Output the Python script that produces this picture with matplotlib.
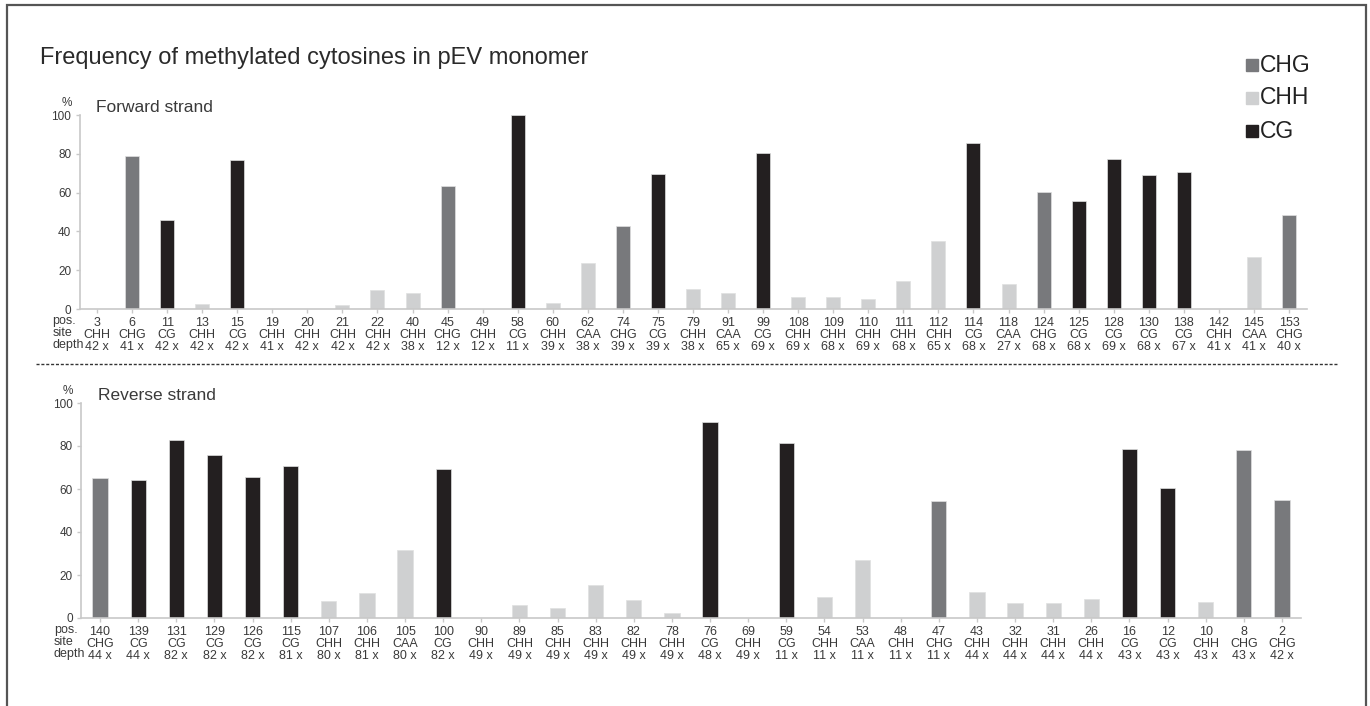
import matplotlib
matplotlib.use("Agg")
import matplotlib.pyplot as plt
from matplotlib.patches import Rectangle
from matplotlib.lines import Line2D

plt.rcParams['font.family'] = ['Liberation Sans', 'DejaVu Sans']

# forward strand
fwd_pos = [3, 6, 11, 13, 15, 19, 20, 21, 22, 40, 45, 49, 58, 60, 62, 74, 75, 79, 91, 99,
           108, 109, 110, 111, 112, 114, 118, 124, 125, 128, 130, 138, 142, 145, 153]
fwd_site = ['CHH', 'CHG', 'CG', 'CHH', 'CG', 'CHH', 'CHH', 'CHH', 'CHH', 'CHH', 'CHG', 'CHH',
            'CG', 'CHH', 'CAA', 'CHG', 'CG', 'CHH', 'CAA', 'CG', 'CHH', 'CHH', 'CHH', 'CHH',
            'CHH', 'CG', 'CAA', 'CHG', 'CG', 'CG', 'CG', 'CG', 'CHH', 'CAA', 'CHG']
fwd_depth = [42, 41, 42, 42, 42, 41, 42, 42, 42, 38, 12, 12, 11, 39, 38, 39, 39, 38, 65, 69,
             69, 68, 69, 68, 65, 68, 27, 68, 68, 69, 68, 67, 41, 41, 40]
fwd_pct = [0, 79, 46, 2.5, 77, 0, 0, 2.3, 9.8, 8, 63.6, 0, 100, 3, 23.5, 43, 69.5, 10.5, 8.3, 80.5,
           6.4, 6.4, 5, 14.5, 35, 85.5, 13, 60.5, 55.5, 77.5, 69, 70.5, 0, 27, 48.5]

# reverse strand
rev_pos = [140, 139, 131, 129, 126, 115, 107, 106, 105, 100, 90, 89, 85, 83, 82, 78, 76, 69,
           59, 54, 53, 48, 47, 43, 32, 31, 26, 16, 12, 10, 8, 2]
rev_site = ['CHG', 'CG', 'CG', 'CG', 'CG', 'CG', 'CHH', 'CHH', 'CAA', 'CG', 'CHH', 'CHH', 'CHH',
            'CHH', 'CHH', 'CHH', 'CG', 'CHH', 'CG', 'CHH', 'CAA', 'CHH', 'CHG', 'CHH', 'CHH',
            'CHH', 'CHH', 'CG', 'CG', 'CHH', 'CHG', 'CHG']
rev_depth = [44, 44, 82, 82, 82, 81, 80, 81, 80, 82, 49, 49, 49, 49, 49, 49, 48, 49, 11, 11,
             11, 11, 11, 44, 44, 44, 44, 43, 43, 43, 43, 42]
rev_pct = [65, 64, 83, 76, 65.5, 70.5, 8, 11.5, 31.5, 69.5, 0, 6, 4.5, 15.5, 8.5, 2.5, 91, 0,
           81.5, 10, 27, 0, 54.5, 12, 7, 7, 9, 78.5, 60.5, 7.5, 78, 55]

colors = {'CHG': '#78797c', 'CHH': '#cfd0d1', 'CAA': '#cfd0d1', 'CG': '#231f20'}
legend_items = ['CHG', 'CHH', 'CG']
axis_col = '#c8c8c8'
txt_col = '#3a3a3a'

W, H = 1370, 706
fig = plt.figure(figsize=(W / 100, H / 100), dpi=100)


def px_axes(x0, y0, x1, y1):
    return fig.add_axes([x0 / W, 1 - y1 / H, (x1 - x0) / W, (y1 - y0) / H])


def strand_panel(ax, pos, site, depth, pct, name):
    n = len(pos)
    ax.bar(range(n), pct, width=0.4, color=[colors[s] for s in site],
           edgecolor='#e0e0e0', linewidth=0.5, zorder=2)
    ax.set_xlim(-0.5, n - 0.5)
    ax.set_ylim(0, 100)
    ax.set_yticks(range(0, 101, 20))
    ax.set_xticks(range(n))
    ax.set_xticklabels([f"{p}\n{s}\n{d} x" for p, s, d in zip(pos, site, depth)],
                       fontsize=9, color=txt_col, linespacing=1.0)
    for lab in ax.get_yticklabels():
        lab.set_fontsize(8.5)
        lab.set_color(txt_col)
    for side in ['top', 'right']:
        ax.spines[side].set_visible(False)
    for side in ['left', 'bottom']:
        ax.spines[side].set_color(axis_col)
        ax.spines[side].set_linewidth(1.2)
    ax.tick_params(axis='both', color=axis_col, length=3, width=1, pad=3)
    ax.annotate("pos.\nsite\ndepth", xy=(0, 0), xycoords='axes fraction',
                xytext=(-27, -6), textcoords='offset pixels', ha='left', va='top',
                fontsize=9, color=txt_col, linespacing=1.0)
    ax.annotate("%", xy=(0, 1), xycoords='axes fraction', xytext=(-13, 6),
                textcoords='offset pixels', ha='center', va='bottom',
                fontsize=8.5, color=txt_col)
    ax.annotate(name, xy=(0, 1), xycoords='axes fraction', xytext=(17, 8),
                textcoords='offset pixels', ha='left', va='center',
                fontsize=12.5, color=txt_col)


ax1 = px_axes(79.5, 115, 1306.5, 309)
strand_panel(ax1, fwd_pos, fwd_site, fwd_depth, fwd_pct, "Forward strand")
ax2 = px_axes(81, 403, 1301, 618)
strand_panel(ax2, rev_pos, rev_site, rev_depth, rev_pct, "Reverse strand")

fig.text(40 / W, 1 - 58 / H, "Frequency of methylated cytosines in pEV monomer",
         fontsize=17, color='#2a2a2a', ha='left', va='center')

# legend
for i, k in enumerate(legend_items):
    yc = 65 + i * 33
    fig.patches.append(Rectangle((1246 / W, 1 - (yc + 6) / H), 12 / W, 12 / H,
                                 transform=fig.transFigure, color=colors[k]))
    fig.text(1260 / W, 1 - yc / H, k, fontsize=16.5, color='#222222',
             ha='left', va='center')

# dashed separator
fig.lines.append(Line2D([36 / W, 1337 / W], [1 - 364 / H, 1 - 364 / H],
                        transform=fig.transFigure, color='#333333', lw=1,
                        linestyle=(0, (2.2, 1.3))))

# outer frame
fig.patches.append(Rectangle((7 / W, -0.05), (1366 - 7) / W, 1.05 - 5 / H,
                             transform=fig.transFigure, fill=False,
                             edgecolor='#555555', lw=1.6))

fig.savefig("out.png", dpi=100)
